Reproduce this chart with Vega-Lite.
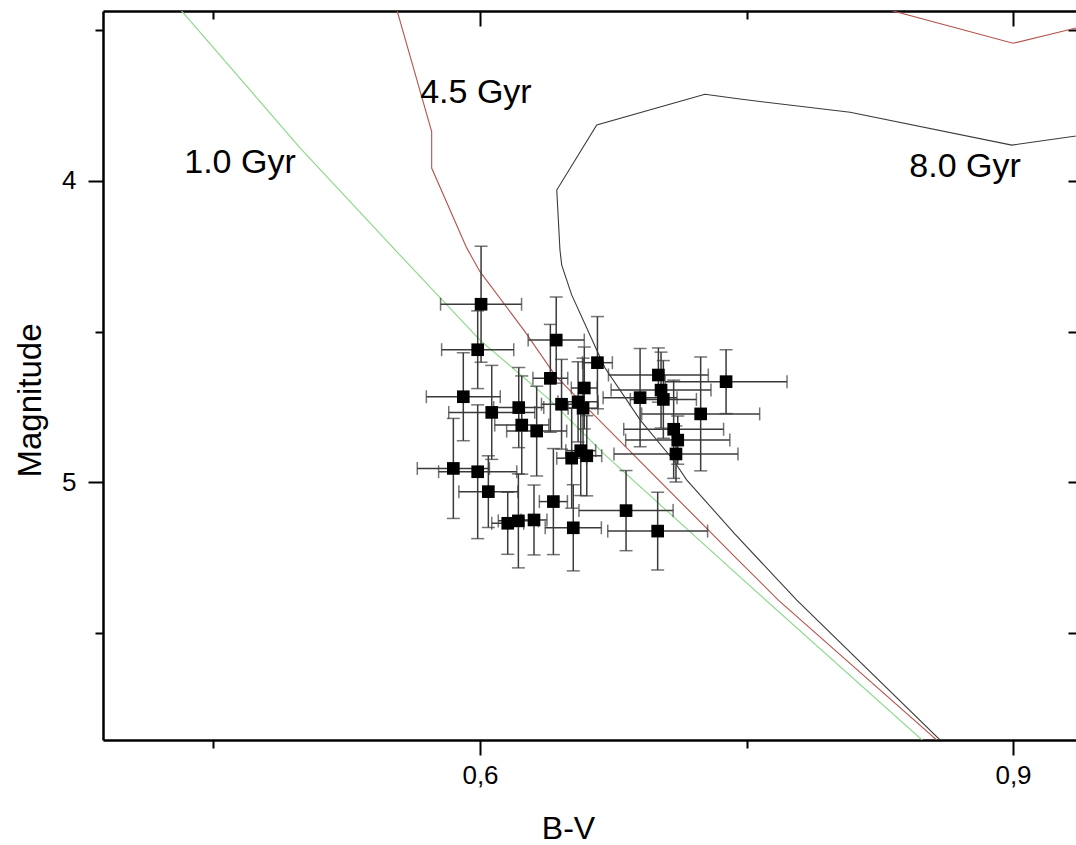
{
  "$schema": "https://vega.github.io/schema/vega-lite/v6.json",
  "width": 973,
  "height": 729,
  "autosize": "none",
  "padding": {"left": 103, "top": 11, "right": 0, "bottom": 105},
  "background": "white",
  "config": {
    "font": "Liberation Sans",
    "view": {"stroke": null},
    "axis": {"grid": false, "domainColor": "black", "tickColor": "black", "labelColor": "black", "titleColor": "black", "domainWidth": 2.5, "tickWidth": 2, "titleFontWeight": "normal", "labelFont": "Liberation Sans", "titleFont": "Liberation Sans"}
  },
  "datasets": {
    "pts": [
      {"bv": 0.6006, "mag": 4.409, "ex": 0.0228, "ey": 0.1925},
      {"bv": 0.5987, "mag": 4.560, "ex": 0.0203, "ey": 0.129},
      {"bv": 0.5906, "mag": 4.716, "ex": 0.0208, "ey": 0.146},
      {"bv": 0.6429, "mag": 4.528, "ex": 0.0158, "ey": 0.143},
      {"bv": 0.6661, "mag": 4.603, "ex": 0.0084, "ey": 0.153},
      {"bv": 0.6396, "mag": 4.655, "ex": 0.0098, "ey": 0.179},
      {"bv": 0.6587, "mag": 4.687, "ex": 0.0073, "ey": 0.136},
      {"bv": 0.6066, "mag": 4.768, "ex": 0.0242, "ey": 0.156},
      {"bv": 0.6218, "mag": 4.752, "ex": 0.0141, "ey": 0.133},
      {"bv": 0.6459, "mag": 4.741, "ex": 0.0113, "ey": 0.149},
      {"bv": 0.6552, "mag": 4.733, "ex": 0.0113, "ey": 0.133},
      {"bv": 0.658, "mag": 4.754, "ex": 0.0084, "ey": 0.166},
      {"bv": 0.6235, "mag": 4.810, "ex": 0.0152, "ey": 0.163},
      {"bv": 0.6319, "mag": 4.830, "ex": 0.0169, "ey": 0.149},
      {"bv": 0.6901, "mag": 4.719, "ex": 0.0208, "ey": 0.163},
      {"bv": 0.7004, "mag": 4.644, "ex": 0.0281, "ey": 0.090},
      {"bv": 0.7019, "mag": 4.694, "ex": 0.0281, "ey": 0.126},
      {"bv": 0.7032, "mag": 4.725, "ex": 0.0186, "ey": 0.129},
      {"bv": 0.7242, "mag": 4.773, "ex": 0.0332, "ey": 0.189},
      {"bv": 0.7385, "mag": 4.666, "ex": 0.0343, "ey": 0.106},
      {"bv": 0.709, "mag": 4.824, "ex": 0.0281, "ey": 0.163},
      {"bv": 0.7113, "mag": 4.860, "ex": 0.0293, "ey": 0.080},
      {"bv": 0.7103, "mag": 4.906, "ex": 0.0349, "ey": 0.093},
      {"bv": 0.6567, "mag": 4.895, "ex": 0.0084, "ey": 0.149},
      {"bv": 0.6601, "mag": 4.912, "ex": 0.0084, "ey": 0.133},
      {"bv": 0.6516, "mag": 4.920, "ex": 0.0084, "ey": 0.166},
      {"bv": 0.585, "mag": 4.954, "ex": 0.0203, "ey": 0.166},
      {"bv": 0.5987, "mag": 4.965, "ex": 0.022, "ey": 0.222},
      {"bv": 0.6047, "mag": 5.031, "ex": 0.0166, "ey": 0.119},
      {"bv": 0.6413, "mag": 5.064, "ex": 0.0079, "ey": 0.176},
      {"bv": 0.6822, "mag": 5.094, "ex": 0.0265, "ey": 0.133},
      {"bv": 0.6156, "mag": 5.136, "ex": 0.009, "ey": 0.103},
      {"bv": 0.6216, "mag": 5.128, "ex": 0.0113, "ey": 0.156},
      {"bv": 0.6304, "mag": 5.125, "ex": 0.0073, "ey": 0.116},
      {"bv": 0.6525, "mag": 5.151, "ex": 0.0158, "ey": 0.143},
      {"bv": 0.7, "mag": 5.162, "ex": 0.0281, "ey": 0.129}
    ],
    "iso": [
      {"age": "1.0 Gyr", "seg": "g", "ord": 1, "bv": 0.4267, "mag": 3.399},
      {"age": "1.0 Gyr", "seg": "g", "ord": 2, "bv": 0.4987, "mag": 3.890},
      {"age": "1.0 Gyr", "seg": "g", "ord": 3, "bv": 0.555, "mag": 4.246},
      {"age": "1.0 Gyr", "seg": "g", "ord": 4, "bv": 0.6, "mag": 4.528},
      {"age": "1.0 Gyr", "seg": "g", "ord": 5, "bv": 0.6394, "mag": 4.727},
      {"age": "1.0 Gyr", "seg": "g", "ord": 6, "bv": 0.6704, "mag": 4.909},
      {"age": "1.0 Gyr", "seg": "g", "ord": 7, "bv": 0.7463, "mag": 5.314},
      {"age": "1.0 Gyr", "seg": "g", "ord": 8, "bv": 0.8488, "mag": 5.855},
      {"age": "1.0 Gyr", "seg": "g", "ord": 9, "bv": 0.8561, "mag": 5.895},
      {"age": "4.5 Gyr", "seg": "r1", "ord": 1, "bv": 0.5516, "mag": 3.399},
      {"age": "4.5 Gyr", "seg": "r1", "ord": 2, "bv": 0.5728, "mag": 3.836},
      {"age": "4.5 Gyr", "seg": "r1", "ord": 3, "bv": 0.5728, "mag": 3.957},
      {"age": "4.5 Gyr", "seg": "r1", "ord": 4, "bv": 0.5925, "mag": 4.222},
      {"age": "4.5 Gyr", "seg": "r1", "ord": 5, "bv": 0.6, "mag": 4.301},
      {"age": "4.5 Gyr", "seg": "r1", "ord": 6, "bv": 0.6253, "mag": 4.500},
      {"age": "4.5 Gyr", "seg": "r1", "ord": 7, "bv": 0.6422, "mag": 4.644},
      {"age": "4.5 Gyr", "seg": "r1", "ord": 8, "bv": 0.6619, "mag": 4.763},
      {"age": "4.5 Gyr", "seg": "r1", "ord": 9, "bv": 0.7463, "mag": 5.264},
      {"age": "4.5 Gyr", "seg": "r1", "ord": 10, "bv": 0.7679, "mag": 5.391},
      {"age": "4.5 Gyr", "seg": "r1", "ord": 11, "bv": 0.857, "mag": 5.855},
      {"age": "4.5 Gyr", "seg": "r1", "ord": 12, "bv": 0.8645, "mag": 5.892},
      {"age": "4.5 Gyr", "seg": "r2", "ord": 1, "bv": 0.8094, "mag": 3.399},
      {"age": "4.5 Gyr", "seg": "r2", "ord": 2, "bv": 0.9, "mag": 3.543},
      {"age": "4.5 Gyr", "seg": "r2", "ord": 3, "bv": 0.9433, "mag": 3.481},
      {"age": "8.0 Gyr", "seg": "k", "ord": 1, "bv": 0.9433, "mag": 3.844},
      {"age": "8.0 Gyr", "seg": "k", "ord": 2, "bv": 0.8993, "mag": 3.881},
      {"age": "8.0 Gyr", "seg": "k", "ord": 3, "bv": 0.8083, "mag": 3.772},
      {"age": "8.0 Gyr", "seg": "k", "ord": 4, "bv": 0.7463, "mag": 3.728},
      {"age": "8.0 Gyr", "seg": "k", "ord": 5, "bv": 0.7266, "mag": 3.712},
      {"age": "8.0 Gyr", "seg": "k", "ord": 6, "bv": 0.6657, "mag": 3.814},
      {"age": "8.0 Gyr", "seg": "k", "ord": 7, "bv": 0.6432, "mag": 4.030},
      {"age": "8.0 Gyr", "seg": "k", "ord": 8, "bv": 0.645, "mag": 4.229},
      {"age": "8.0 Gyr", "seg": "k", "ord": 9, "bv": 0.646, "mag": 4.279},
      {"age": "8.0 Gyr", "seg": "k", "ord": 10, "bv": 0.6516, "mag": 4.378},
      {"age": "8.0 Gyr", "seg": "k", "ord": 11, "bv": 0.6657, "mag": 4.561},
      {"age": "8.0 Gyr", "seg": "k", "ord": 12, "bv": 0.6704, "mag": 4.621},
      {"age": "8.0 Gyr", "seg": "k", "ord": 13, "bv": 0.6901, "mag": 4.793},
      {"age": "8.0 Gyr", "seg": "k", "ord": 14, "bv": 0.7088, "mag": 4.926},
      {"age": "8.0 Gyr", "seg": "k", "ord": 15, "bv": 0.7163, "mag": 4.992},
      {"age": "8.0 Gyr", "seg": "k", "ord": 16, "bv": 0.7435, "mag": 5.172},
      {"age": "8.0 Gyr", "seg": "k", "ord": 17, "bv": 0.7783, "mag": 5.391},
      {"age": "8.0 Gyr", "seg": "k", "ord": 18, "bv": 0.8589, "mag": 5.855},
      {"age": "8.0 Gyr", "seg": "k", "ord": 19, "bv": 0.8657, "mag": 5.895}
    ],
    "labels": [
      {"label": "1.0 Gyr", "bv": 0.4649, "mag": 3.973},
      {"label": "4.5 Gyr", "bv": 0.5977, "mag": 3.740},
      {"label": "8.0 Gyr", "bv": 0.873, "mag": 3.986}
    ]
  },
  "resolve": {"axis": {"x": "independent", "y": "independent"}},
  "layer": [
    {
      "data": {"name": "iso"},
      "mark": {"type": "line", "clip": true, "strokeWidth": 1.1},
      "encoding": {
        "x": {"field": "bv", "type": "quantitative",
          "scale": {"domain": [0.38781, 0.93545], "nice": false, "zero": false},
          "axis": {"orient": "bottom", "values": [0.45, 0.6, 0.75, 0.9], "title": "B-V", "titleFontSize": 32, "labelFontSize": 26,
            "labelExpr": "abs(datum.value - 0.6) < 0.001 ? '0,6' : (abs(datum.value - 0.9) < 0.001 ? '0,9' : '')",
            "tickSize": {"condition": {"test": "abs(datum.value - 0.6) < 0.001 || abs(datum.value - 0.9) < 0.001", "value": 15}, "value": 8},
            "labelPadding": 7, "titleX": 465, "titleY": 88, "titleBaseline": "middle", "titleAlign": "center"}},
        "y": {"field": "mag", "type": "quantitative",
          "scale": {"domain": [3.4358, 5.8553], "reverse": true, "nice": false, "zero": false},
          "axis": {"orient": "left", "values": [3.5, 4, 4.5, 5, 5.5], "title": "Magnitude", "titleFontSize": 33, "labelFontSize": 26,
            "labelExpr": "datum.value % 1 == 0 ? format(datum.value, 'd') : ''",
            "tickSize": {"condition": {"test": "datum.value % 1 == 0", "value": 15}, "value": 8},
            "labelPadding": 12, "titleX": -73, "titleY": 389, "titleBaseline": "middle", "titleAlign": "center"}},
        "color": {"field": "age", "type": "nominal", "legend": null,
          "scale": {"domain": ["1.0 Gyr", "4.5 Gyr", "8.0 Gyr"], "range": ["#86d886", "#b5534c", "#3a3a3a"]}},
        "detail": {"field": "seg", "type": "nominal"},
        "order": {"field": "ord", "type": "quantitative"}
      }
    },
    {
      "data": {"name": "pts"},
      "mark": {"type": "errorbar", "ticks": {"size": 13, "thickness": 1.5, "color": "#3a3a3a"}, "rule": {"strokeWidth": 1.5, "color": "#3a3a3a"}},
      "encoding": {
        "x": {"field": "bv", "type": "quantitative", "axis": null},
        "xError": {"field": "ex"},
        "y": {"field": "mag", "type": "quantitative", "axis": null}
      }
    },
    {
      "data": {"name": "pts"},
      "mark": {"type": "errorbar", "ticks": {"size": 13, "thickness": 1.5, "color": "#3a3a3a"}, "rule": {"strokeWidth": 1.5, "color": "#3a3a3a"}},
      "encoding": {
        "x": {"field": "bv", "type": "quantitative", "axis": null},
        "y": {"field": "mag", "type": "quantitative", "axis": null},
        "yError": {"field": "ey"}
      }
    },
    {
      "data": {"name": "pts"},
      "mark": {"type": "point", "shape": "square", "filled": true, "color": "black", "size": 160, "opacity": 1},
      "encoding": {
        "x": {"field": "bv", "type": "quantitative",
          "axis": {"orient": "top", "values": [0.45, 0.6, 0.75, 0.9], "labels": false, "title": null,
            "tickSize": {"condition": {"test": "abs(datum.value - 0.6) < 0.001 || abs(datum.value - 0.9) < 0.001", "value": -15}, "value": -8}}},
        "y": {"field": "mag", "type": "quantitative",
          "axis": {"orient": "right", "values": [3.5, 4, 4.5, 5, 5.5], "labels": false, "title": null, "domain": false, "tickSize": -8}}
      }
    },
    {
      "data": {"name": "labels"},
      "mark": {"type": "text", "fontSize": 34, "font": "Liberation Sans", "align": "center", "baseline": "alphabetic", "color": "black"},
      "encoding": {
        "x": {"field": "bv", "type": "quantitative", "axis": null},
        "y": {"field": "mag", "type": "quantitative", "axis": null},
        "text": {"field": "label"}
      }
    }
  ]
}
